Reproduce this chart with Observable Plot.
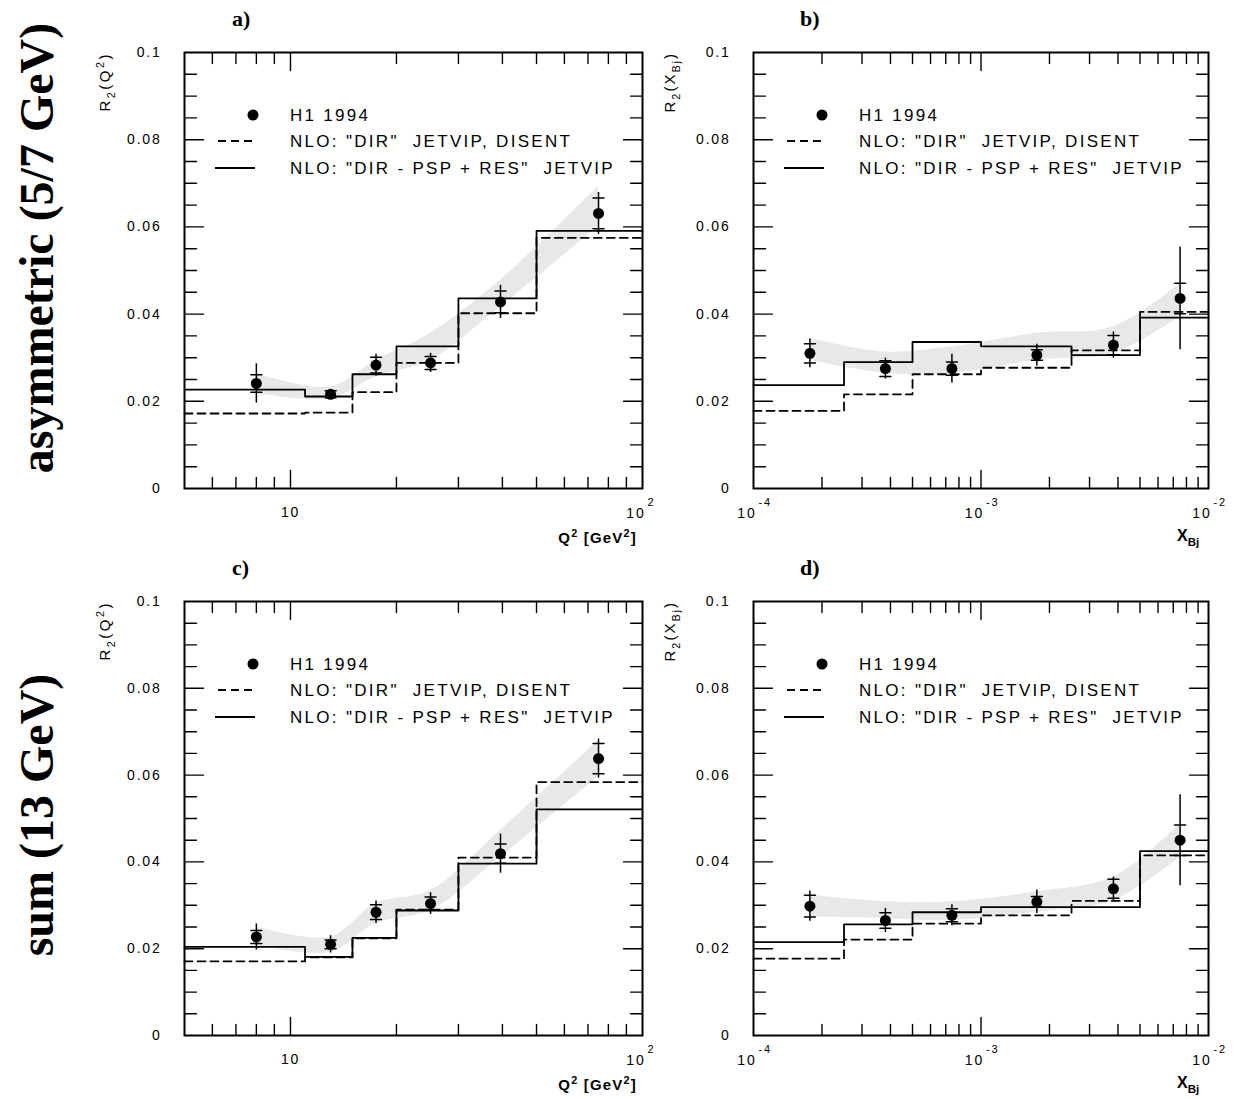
<!DOCTYPE html>
<html><head><meta charset="utf-8">
<script src="https://cdn.jsdelivr.net/npm/d3@7"></script>
<script src="https://cdn.jsdelivr.net/npm/@observablehq/plot@0.6"></script>
<style>
body{margin:0;background:#fff;}
#wrap{position:relative;width:1246px;height:1099px;overflow:hidden;font-family:"Liberation Sans",Arial,sans-serif;background:#fff;}
.panel{position:absolute;}
.rowtitle{position:absolute;font-family:"Liberation Serif","Times New Roman",serif;font-weight:bold;font-size:48px;white-space:nowrap;transform:translate(-50%,-50%) rotate(-90deg);}
.plabel{position:absolute;font-family:"Liberation Serif","Times New Roman",serif;font-weight:bold;font-size:22px;}
</style></head><body><div id="wrap"></div>
<script>
// ---------- data ----------
const q2Edges = [5, 11, 15, 20, 30, 50, 100];
const xbjEdges = [1e-4, 2.5e-4, 5e-4, 1e-3, 2.5e-3, 5e-3, 1e-2];
const q2Points = [8, 13, 17.5, 25, 39.5, 75];
const xbjPoints = [1.77e-4, 3.8e-4, 7.45e-4, 1.76e-3, 3.82e-3, 7.5e-3];

// a) asymmetric, R2(Q2)
const aSolid  = [0.0227, 0.0211, 0.0262, 0.0326, 0.0436, 0.0591];
const aDashed = [0.0172, 0.0174, 0.0221, 0.0288, 0.0402, 0.0575];
const aData   = [0.0241, 0.0216, 0.0283, 0.0288, 0.0428, 0.0631];
const aStat   = [0.0020, 0.0008, 0.0018, 0.0015, 0.0025, 0.0035];
const aTot    = [0.0045, 0.0011, 0.0025, 0.0022, 0.0038, 0.0048];
const aBandLo = [0.0218, 0.0206, 0.0256, 0.0294, 0.0417, 0.0601];
const aBandHi = [0.0264, 0.0233, 0.0294, 0.0356, 0.0478, 0.0693];

// b) asymmetric, R2(xBj)
const bSolid  = [0.0237, 0.0290, 0.0336, 0.0326, 0.0306, 0.0392];
const bDashed = [0.0178, 0.0216, 0.0262, 0.0277, 0.0317, 0.0405];
const bData   = [0.0310, 0.0275, 0.0275, 0.0306, 0.0329, 0.0436];
const bStat   = [0.0022, 0.0018, 0.0015, 0.0012, 0.0022, 0.0035];
const bTot    = [0.0033, 0.0024, 0.0033, 0.0025, 0.0030, 0.0118];
const bBandLo = [0.0294, 0.0264, 0.0264, 0.0294, 0.0310, 0.0394];
const bBandHi = [0.0344, 0.0313, 0.0325, 0.0356, 0.0371, 0.0470];

// c) sum, R2(Q2)
const cSolid  = [0.0204, 0.0181, 0.0225, 0.0288, 0.0396, 0.0521];
const cDashed = [0.0171, 0.0180, 0.0224, 0.0290, 0.0410, 0.0584];
const cData   = [0.0227, 0.0210, 0.0284, 0.0304, 0.0419, 0.0638];
const cStat   = [0.0015, 0.0010, 0.0017, 0.0015, 0.0022, 0.0035];
const cTot    = [0.0030, 0.0020, 0.0026, 0.0025, 0.0045, 0.0045];
const cBandLo = [0.0208, 0.0192, 0.0258, 0.0288, 0.0411, 0.0596];
const cBandHi = [0.0250, 0.0227, 0.0304, 0.0334, 0.0473, 0.0680];

// d) sum, R2(xBj)
const dSolid  = [0.0215, 0.0256, 0.0284, 0.0296, 0.0296, 0.0425];
const dDashed = [0.0177, 0.0221, 0.0258, 0.0277, 0.0310, 0.0415];
const dData   = [0.0298, 0.0265, 0.0277, 0.0308, 0.0338, 0.0450];
const dStat   = [0.0025, 0.0018, 0.0015, 0.0012, 0.0022, 0.0035];
const dTot    = [0.0035, 0.0028, 0.0024, 0.0027, 0.0027, 0.0105];
const dBandLo = [0.0273, 0.0269, 0.0265, 0.0284, 0.0311, 0.0411];
const dBandHi = [0.0323, 0.0308, 0.0308, 0.0331, 0.0365, 0.0488];

// ticks & labels
const yTickValues = [0, 0.02, 0.04, 0.06, 0.08, 0.1];
const yTickLabels = ["0", "0.02", "0.04", "0.06", "0.08", "0.1"];
const yMinorTicks = [0.005,0.01,0.015,0.025,0.03,0.035,0.045,0.05,0.055,0.065,0.07,0.075,0.085,0.09,0.095];
const yMajorTicks = [0.02, 0.04, 0.06, 0.08];
const q2MajorTicks = [10];
const q2MinorTicks = [6,7,8,9,20,30,40,50,60,70,80,90];
const xbjMajorTicks = [1e-3];
const xbjMinorTicks = [2e-4,3e-4,4e-4,5e-4,6e-4,7e-4,8e-4,9e-4,2e-3,3e-3,4e-3,5e-3,6e-3,7e-3,8e-3,9e-3];
const q2LabelVals = [10, 100];
const q2LabelBase = ["10", "10"];
const q2LabelExp = ["", "2"];
const xbjLabelVals = [1e-4, 1e-3, 1e-2];
const xbjLabelBase = ["10", "10", "10"];
const xbjLabelExp = ["-4", "-3", "-2"];

const legendTexts = ["H1 1994", "NLO: \"DIR\"  JETVIP, DISENT", "NLO: \"DIR - PSP + RES\"  JETVIP"];
const FONT = "'Liberation Sans', Arial, sans-serif";

// ---------- helpers ----------
const tickShape = {draw(ctx, l) { ctx.moveTo(0, 0); ctx.lineTo(0, -l); }};

function tickMarks(data, ch, frameAnchor, rotate, len) {
  return Plot.vector(data, {[ch]: d => d, frameAnchor, rotate, length: len, anchor: "start",
    shape: tickShape, stroke: "black", strokeWidth: 1.4});
}

function addRich(svg, x, y, parts, {size = 14, weight = "normal", anchor = "start", rotate = 0, spacing = 0} = {}) {
  const t = d3.select(svg).append("text")
    .attr("transform", `translate(${x},${y}) rotate(${rotate})`)
    .attr("text-anchor", anchor)
    .attr("font-size", size).attr("font-weight", weight)
    .attr("font-family", FONT)
    .attr("letter-spacing", spacing)
    .attr("fill", "black")
    .style("white-space", "pre");
  let off = 0;
  for (const [txt, kind] of parts) {
    let target = 0, fs = size;
    if (kind === "sup") { target = -0.42 * size; fs = size * 0.72; }
    if (kind === "sub") { target = 0.3 * size; fs = size * 0.72; }
    t.append("tspan").attr("dy", target - off).attr("font-size", fs).text(txt);
    off = target;
  }
  return t;
}

function panel(cfg) {
  const {edges, pts, solid, dashed, data, stat, tot, bandLo, bandHi, xDomain,
         xMajor, xMinor, labVals, labBase, labExp, width, height, ml, mr, mt, mb} = cfg;
  const hist = vals => edges.map((e, i) => ({x: e, y: vals[Math.min(i, vals.length - 1)]}));
  const points = pts.map((x, i) => ({x, y: data[i], stat: stat[i], tot: tot[i]}));
  const band = pts.map((x, i) => ({x, lo: bandLo[i], hi: bandHi[i]}));
  const labs = labVals.map((v, i) => ({v, base: labBase[i], exp: labExp[i]}));
  const plain = labs.filter(d => d.exp === "");
  const withExp = labs.filter(d => d.exp !== "");
  const svg = Plot.plot({
    width, height, marginLeft: ml, marginRight: mr, marginTop: mt, marginBottom: mb,
    x: {type: "log", domain: xDomain, axis: null},
    y: {domain: [0, 0.1], axis: null},
    style: {background: "transparent", overflow: "visible", fontFamily: FONT},
    marks: [
      Plot.areaY(band, {x: "x", y1: "lo", y2: "hi", fill: "#e8e8e8", curve: "catmull-rom"}),
      Plot.line(hist(dashed), {x: "x", y: "y", curve: "step-after", stroke: "black", strokeWidth: 1.8, strokeDasharray: "8,5"}),
      Plot.line(hist(solid), {x: "x", y: "y", curve: "step-after", stroke: "black", strokeWidth: 1.8}),
      Plot.ruleX(points, {x: "x", y1: d => d.y - d.tot, y2: d => d.y + d.tot, stroke: "black", strokeWidth: 1.5}),
      Plot.vector(points, {x: "x", y: d => d.y + d.stat, rotate: 90, length: 11, anchor: "middle", shape: tickShape, stroke: "black", strokeWidth: 1.5}),
      Plot.vector(points, {x: "x", y: d => d.y - d.stat, rotate: 90, length: 11, anchor: "middle", shape: tickShape, stroke: "black", strokeWidth: 1.5}),
      Plot.dot(points, {x: "x", y: "y", r: 5.5, fill: "black"}),
      Plot.frame({stroke: "black", strokeWidth: 2}),
      tickMarks(yMajorTicks, "y", "left", 90, 19),
      tickMarks(yMinorTicks, "y", "left", 90, 12),
      tickMarks(yMajorTicks, "y", "right", -90, 19),
      tickMarks(yMinorTicks, "y", "right", -90, 12),
      tickMarks(xMajor, "x", "bottom", 0, 18),
      tickMarks(xMinor, "x", "bottom", 0, 11),
      tickMarks(xMajor, "x", "top", 180, 18),
      tickMarks(xMinor, "x", "top", 180, 11),
      Plot.text(yTickValues, {y: d => d, text: (d, i) => yTickLabels[i], frameAnchor: "left", dx: -23, textAnchor: "end", fontSize: 14}),
      Plot.text(plain, {x: "v", text: "base", frameAnchor: "bottom", dy: 28, textAnchor: "middle", fontSize: 14}),
      Plot.text(withExp, {x: "v", text: "base", frameAnchor: "bottom", dy: 29, dx: 3, textAnchor: "end", fontSize: 14}),
      Plot.text(withExp, {x: "v", text: "exp", frameAnchor: "bottom", dy: 17, dx: 5, textAnchor: "start", fontSize: 11})
    ]
  });
  d3.select(svg).selectAll("g[aria-label=text] text").attr("letter-spacing", 1.8);
  return svg;
}

function addLegend(svg, fl, ft) {
  const g = d3.select(svg).append("g");
  g.append("circle").attr("cx", fl + 69).attr("cy", ft + 63).attr("r", 5.5).attr("fill", "black");
  g.append("line").attr("x1", fl + 34).attr("x2", fl + 71).attr("y1", ft + 89).attr("y2", ft + 89)
    .attr("stroke", "black").attr("stroke-width", 1.8).attr("stroke-dasharray", "8,5");
  g.append("line").attr("x1", fl + 31).attr("x2", fl + 71).attr("y1", ft + 116).attr("y2", ft + 116)
    .attr("stroke", "black").attr("stroke-width", 1.8);
  [63, 89, 116].forEach((dy, i) => {
    g.append("text").attr("x", fl + 106).attr("y", ft + dy).attr("dominant-baseline", "central")
      .attr("text-anchor", "start")
      .attr("font-family", FONT).attr("font-size", 17).attr("letter-spacing", 2.3)
      .style("white-space", "pre").text(legendTexts[i]);
  });
}

// ---------- build ----------
const wrap = document.getElementById("wrap");
const layouts = [
  {key: "a", left: 90,  top: 0,   width: 580, height: 560, ml: 94, mr: 28, mt: 52, mb: 72, kind: "q2",
   solid: aSolid, dashed: aDashed, data: aData, stat: aStat, tot: aTot, bandLo: aBandLo, bandHi: aBandHi},
  {key: "b", left: 660, top: 0,   width: 586, height: 560, ml: 93, mr: 38, mt: 52, mb: 72, kind: "x",
   solid: bSolid, dashed: bDashed, data: bData, stat: bStat, tot: bTot, bandLo: bBandLo, bandHi: bBandHi},
  {key: "c", left: 90,  top: 549, width: 580, height: 550, ml: 94, mr: 28, mt: 52, mb: 64, kind: "q2",
   solid: cSolid, dashed: cDashed, data: cData, stat: cStat, tot: cTot, bandLo: cBandLo, bandHi: cBandHi},
  {key: "d", left: 660, top: 549, width: 586, height: 550, ml: 93, mr: 38, mt: 52, mb: 64, kind: "x",
   solid: dSolid, dashed: dDashed, data: dData, stat: dStat, tot: dTot, bandLo: dBandLo, bandHi: dBandHi}
];

for (const L of layouts) {
  const isQ = L.kind === "q2";
  const svg = panel({
    ...L,
    edges: isQ ? q2Edges : xbjEdges,
    pts: isQ ? q2Points : xbjPoints,
    xDomain: isQ ? [5, 100] : [1e-4, 1e-2],
    xMajor: isQ ? q2MajorTicks : xbjMajorTicks,
    xMinor: isQ ? q2MinorTicks : xbjMinorTicks,
    labVals: isQ ? q2LabelVals : xbjLabelVals,
    labBase: isQ ? q2LabelBase : xbjLabelBase,
    labExp: isQ ? q2LabelExp : xbjLabelExp
  });
  svg.classList.add("panel");
  svg.style.left = L.left + "px";
  svg.style.top = L.top + "px";
  wrap.appendChild(svg);
  const fl = L.ml, ft = L.mt, fr = L.width - L.mr, fb = L.height - L.mb;
  addLegend(svg, fl, ft);
  if (isQ) {
    addRich(svg, fl - 74, ft, [["R", ""], ["2", "sub"], ["(Q", ""], ["2", "sup"], [")", ""]], {size: 15, anchor: "end", rotate: -90, spacing: 2.5});
    addRich(svg, fr - 5, fb + 55, [["Q", ""], ["2", "sup"], [" [GeV", ""], ["2", "sup"], ["]", ""]], {size: 15, weight: "bold", anchor: "end", spacing: 1.2});
  } else {
    addRich(svg, fl - 78, ft, [["R", ""], ["2", "sub"], ["(X", ""], ["Bj", "sub"], [")", ""]], {size: 15, anchor: "end", rotate: -90, spacing: 2});
    addRich(svg, fr - 31, fb + 53, [["X", ""], ["Bj", "sub"]], {size: 16, weight: "bold", anchor: "start"});
  }
}

// panel letters
[["a)", 232, 6], ["b)", 800, 6], ["c)", 232, 555], ["d)", 800, 555]].forEach(([t, x, y]) => {
  const d = document.createElement("div");
  d.className = "plabel"; d.textContent = t;
  d.style.left = x + "px"; d.style.top = y + "px";
  wrap.appendChild(d);
});
// row titles
[["asymmetric (5/7 GeV)", 36, 248], ["sum (13 GeV)", 36, 815]].forEach(([t, x, y]) => {
  const d = document.createElement("div");
  d.className = "rowtitle"; d.textContent = t;
  d.style.left = x + "px"; d.style.top = y + "px";
  wrap.appendChild(d);
});
</script>
</body></html>
